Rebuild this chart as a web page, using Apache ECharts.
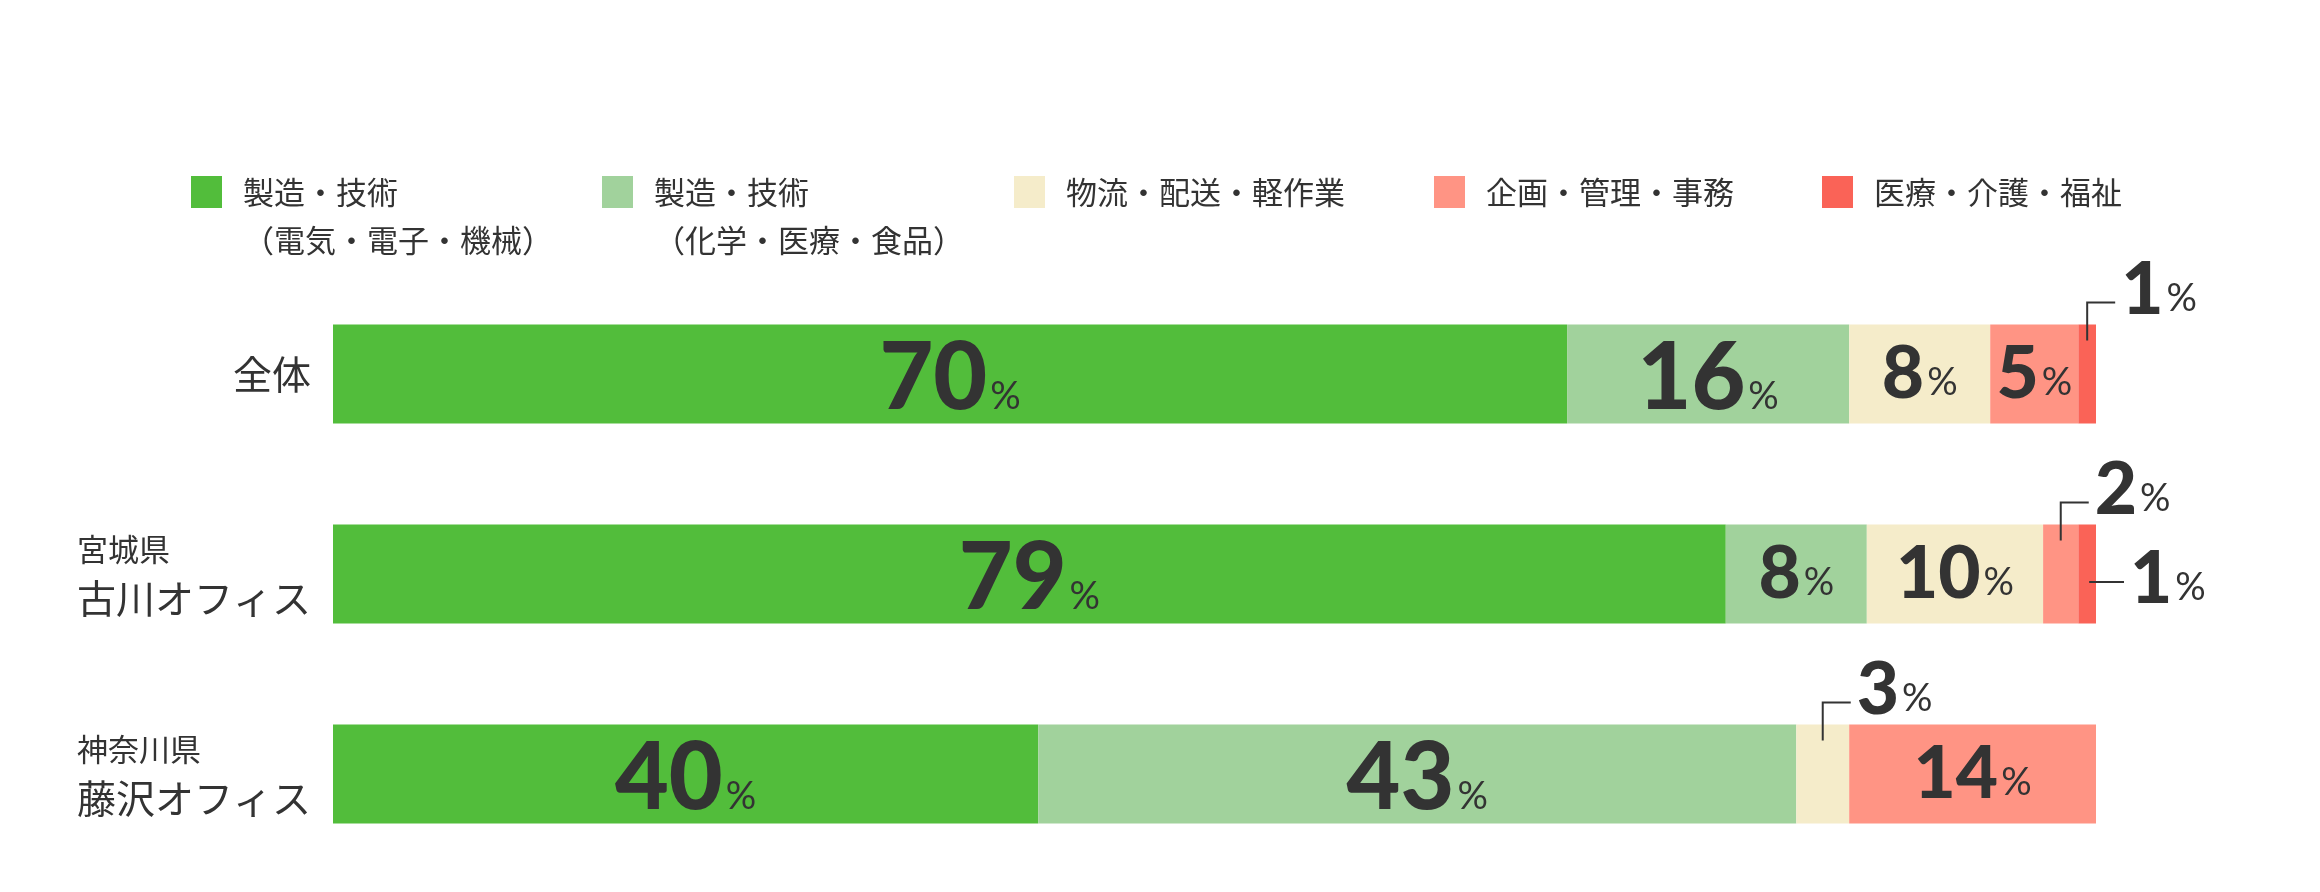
<!DOCTYPE html>
<html>
<head>
<meta charset="utf-8">
<script src="https://cdn.jsdelivr.net/npm/echarts@6/dist/echarts.min.js"></script>
<style>
html,body{margin:0;padding:0;background:#fff}
#main{width:2320px;height:892px}
</style>
</head>
<body>
<div id="main"></div>
<script>
const categories = ['全体', '宮城県\n古川オフィス', '神奈川県\n藤沢オフィス'];
const seriesNames = [
    '製造・技術\n（電気・電子・機械）',
    '製造・技術\n（化学・医療・食品）',
    '物流・配送・軽作業',
    '企画・管理・事務',
    '医療・介護・福祉'
];
const elecMech = [70, 79, 40];
const chemMedFood = [16, 8, 43];
const logistics = [8, 10, 3];
const planning = [5, 2, 14];
const medical = [1, 1, 0];

const values = [elecMech, chemMedFood, logistics, planning, medical];
const colors = ['#52bd3b', '#a1d29c', '#f5ecca', '#ff9484', '#fa6357'];

const ink = '#333333';
const cjk = '"Noto Sans CJK JP", sans-serif';
const numFont = 'Lato, Roboto, sans-serif';
const SMALL = 5;      // below this the label goes outside the bar
const BIG = 15;       // from this on the number is drawn larger
const BAR_H = 99;

// rich styles work both for echarts labels (color) and zrender text (fill)
const pctRich = {
    big: {fontFamily: numFont, fontWeight: 900, fontSize: 93, lineHeight: 56, color: ink, fill: ink, verticalAlign: 'bottom'},
    mid: {fontFamily: numFont, fontWeight: 900, fontSize: 73, lineHeight: 44, color: ink, fill: ink, verticalAlign: 'bottom'},
    // bottom padding lifts the % onto the digits' baseline
    pct: {fontFamily: numFont, fontWeight: 'normal', fontSize: 38, lineHeight: 23, color: ink, fill: ink, verticalAlign: 'bottom', padding: [0, 0, 9, 3]}
};
function pctText(v) {
    return '{' + (v >= BIG ? 'big' : 'mid') + '|' + v + '}{pct|%}';
}

// small segments get a callout: [start, end, row, value, placement]
let outside = [];
values.forEach(function (arr, s) {
    arr.forEach(function (v, c) {
        if (v > 0 && v < SMALL) {
            let start = 0;
            for (let k = 0; k < s; k++) start += values[k][c];
            let prevSmall = s > 0 && values[s - 1][c] < SMALL;
            outside.push([start, start + v, c, v, prevSmall ? 1 : 0]);
        }
    });
});

function renderCallout(params, api) {
    let a = api.coord([api.value(0), api.value(2)]);
    let b = api.coord([api.value(1), api.value(2)]);
    let cx = (a[0] + b[0]) / 2, cy = a[1], top = cy - BAR_H / 2;
    let pts, tx, ty;
    if (api.value(4) === 1) {
        let ly = cy + 8;
        pts = [[cx + 2, ly], [b[0] + 28, ly]];
        tx = b[0] + 34; ty = ly + 12;
    } else {
        let ly = top - 22;
        pts = [[cx, top + 16], [cx, ly], [cx + 28, ly]];
        tx = cx + 34; ty = ly + 2;
    }
    return {
        type: 'group',
        children: [
            {type: 'polyline', shape: {points: pts}, style: {stroke: ink, lineWidth: 2, fill: null}},
            {type: 'text', x: tx, y: ty, style: {text: pctText(api.value(3)), rich: pctRich, align: 'left', verticalAlign: 'middle'}}
        ]
    };
}

const legendLeft = [191, 602, 1014, 1434, 1822];
let legends = seriesNames.map(function (name, i) {
    let multi = name.indexOf('\n') >= 0;
    return {
        data: [name],
        left: legendLeft[i],
        top: multi ? 120 : 168,
        padding: 0,
        itemWidth: 31,
        itemHeight: 32,
        icon: 'rect',
        selectedMode: false,
        // a blank first line keeps the first real line level with the square
        formatter: function (n) { return n.indexOf('\n') >= 0 ? ' \n' + n : n; },
        textStyle: {
            fontFamily: cjk, fontSize: 31, color: ink, lineHeight: 48,
            padding: [0, 0, 0, 16]
        }
    };
});

let series = seriesNames.map(function (name, i) {
    return {
        name: name,
        type: 'bar',
        stack: 'all',
        barWidth: BAR_H,
        data: values[i].map(function (v) {
            return {value: v, label: {offset: [0, v >= BIG ? 23 : 15]}};
        }),
        itemStyle: {color: colors[i]},
        silent: true,
        label: {
            show: true,
            position: 'inside',
            formatter: function (p) { return p.value < SMALL ? '' : pctText(p.value); },
            rich: pctRich
        }
    };
});
series.push({
    type: 'custom',
    silent: true,
    z: 5,
    data: outside,
    encode: {x: [0, 1], y: 2},
    renderItem: renderCallout
});

let chart = echarts.init(document.getElementById('main'));
chart.setOption({
    animation: false,
    backgroundColor: '#fff',
    legend: legends,
    grid: {left: 333, right: 224, top: 274, height: 600},
    xAxis: {type: 'value', min: 0, max: 100, show: false},
    yAxis: {
        type: 'category',
        data: categories,
        inverse: true,
        axisLine: {show: false},
        axisTick: {show: false},
        axisLabel: {
            margin: 22,
            align: 'right',
            formatter: function (v) {
                let p = v.split('\n');
                return p.length > 1 ? '{s|' + p[0] + '}\n{b|' + p[1] + '}' : '{b|' + p[0] + '}';
            },
            rich: {
                s: {fontFamily: cjk, fontSize: 31, lineHeight: 48, align: 'left', color: ink},
                b: {fontFamily: cjk, fontSize: 39, lineHeight: 50, align: 'left', color: ink}
            }
        }
    },
    series: series
});
</script>
</body>
</html>
